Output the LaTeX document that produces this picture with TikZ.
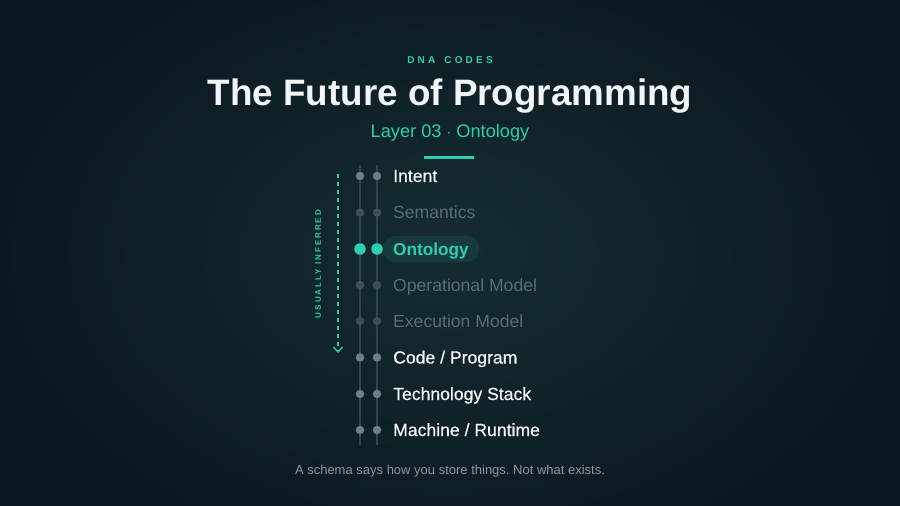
\documentclass[tikz,border=0pt]{standalone}
\usepackage{fontspec}
\setmainfont{Liberation Sans}
\frenchspacing
\usetikzlibrary{arrows.meta}
\definecolor{bgout}{HTML}{0B1820}
\definecolor{bgin}{HTML}{152C30}
\definecolor{accent}{HTML}{2FCDB2}
\definecolor{txtlit}{HTML}{F2F5F5}
\definecolor{txtdim}{HTML}{5B6C73}
\definecolor{dotlit}{HTML}{6F7F84}
\definecolor{dotdim}{HTML}{3E4E54}
\definecolor{rail}{HTML}{32434A}
\definecolor{foot}{HTML}{8A979C}
\tikzset{
  lay/.style={anchor=base west, inner sep=0pt, font=\fontsize{17.6}{20}\selectfont},
  laylit/.style={lay, text=txtlit, font=\fontsize{17.6}{20}\selectfont\addfontfeatures{FakeBold=0.6}},
  laydim/.style={lay, text=txtdim},
  dlit/.style={circle, fill=dotlit, inner sep=0pt, minimum size=8.5pt},
  ddim/.style={circle, fill=dotdim, inner sep=0pt, minimum size=8.5pt},
  don/.style={circle, fill=accent, inner sep=0pt, minimum size=11.5pt},
}
\begin{document}
\begin{tikzpicture}[x=1pt,y=-1pt]
\useasboundingbox (0,0) rectangle (900,506);
\fill[bgout] (0,0) rectangle (900,506);
\shade[inner color=bgin, outer color=bgout] (0,-60) rectangle (900,566);
% header
\node[text=accent, font=\fontsize{10}{12}\bfseries\addfontfeatures{LetterSpace=32}] (brand) at (450,60) {DNA\hspace{3pt} CODES};
\node[text=txtlit, font=\fontsize{36.8}{40}\bfseries] (title) at (450,96) {The Future of Programming};
\node[text=accent, font=\fontsize{18.2}{22}\selectfont] (sub) at (450,133) {Layer 03 $\cdot$ Ontology};
\coordinate (barl) at (424,157);
\coordinate (barr) at (474,157);
\draw[accent, line width=3pt] (barl) -- (barr);
% rails
\coordinate (ltop) at (360,165);
\coordinate (lbot) at (360,445);
\coordinate (rtop) at (377,165);
\coordinate (rbot) at (377,445);
\draw[rail, line width=1.6pt] (ltop) -- (lbot);
\draw[rail, line width=1.6pt] (rtop) -- (rbot);
% highlight
\fill[accent, opacity=0.10, rounded corners=12pt] (383,236) rectangle (479,262);
% layers
\node[dlit] (dl0) at (360,176){};
\node[dlit] (dr0) at (377,176){};
\node[laylit] (lay0) at (393,182){Intent};
\node[ddim] (dl1) at (360,212.5){};
\node[ddim] (dr1) at (377,212.5){};
\node[laydim] (lay1) at (393,218.5){Semantics};
\node[don] (dl2) at (360,249){};
\node[don] (dr2) at (377,249){};
\node[lay, text=accent, font=\fontsize{17.2}{20}\bfseries] (lay2) at (393,255){Ontology};
\node[ddim] (dl3) at (360,285){};
\node[ddim] (dr3) at (377,285){};
\node[laydim] (lay3) at (393,291){Operational Model};
\node[ddim] (dl4) at (360,321){};
\node[ddim] (dr4) at (377,321){};
\node[laydim] (lay4) at (393,327){Execution Model};
\node[dlit] (dl5) at (360,357.5){};
\node[dlit] (dr5) at (377,357.5){};
\node[laylit] (lay5) at (393,363.5){Code / Program};
\node[dlit] (dl6) at (360,394){};
\node[dlit] (dr6) at (377,394){};
\node[laylit] (lay6) at (393,400){Technology Stack};
\node[dlit] (dl7) at (360,430){};
\node[dlit] (dr7) at (377,430){};
\node[laylit] (lay7) at (393,436){Machine / Runtime};
% inferred arrow
\coordinate (inftop) at (338,174);
\coordinate (infbot) at (338,353);
\draw[accent, line width=1.2pt, dash pattern=on 4pt off 4pt, -{Straight Barb[length=5pt, width=9pt, line width=1.3pt]}] (inftop) -- (infbot);
\node[text=accent, rotate=90, font=\fontsize{8}{10}\bfseries\addfontfeatures{LetterSpace=25}] (inf) at (318,264) {USUALLY INFERRED};
% footer
\node[text=foot, font=\fontsize{13}{16}\selectfont] (note) at (450,471) {A schema says how you store things. Not what exists.};
\end{tikzpicture}
\end{document}
